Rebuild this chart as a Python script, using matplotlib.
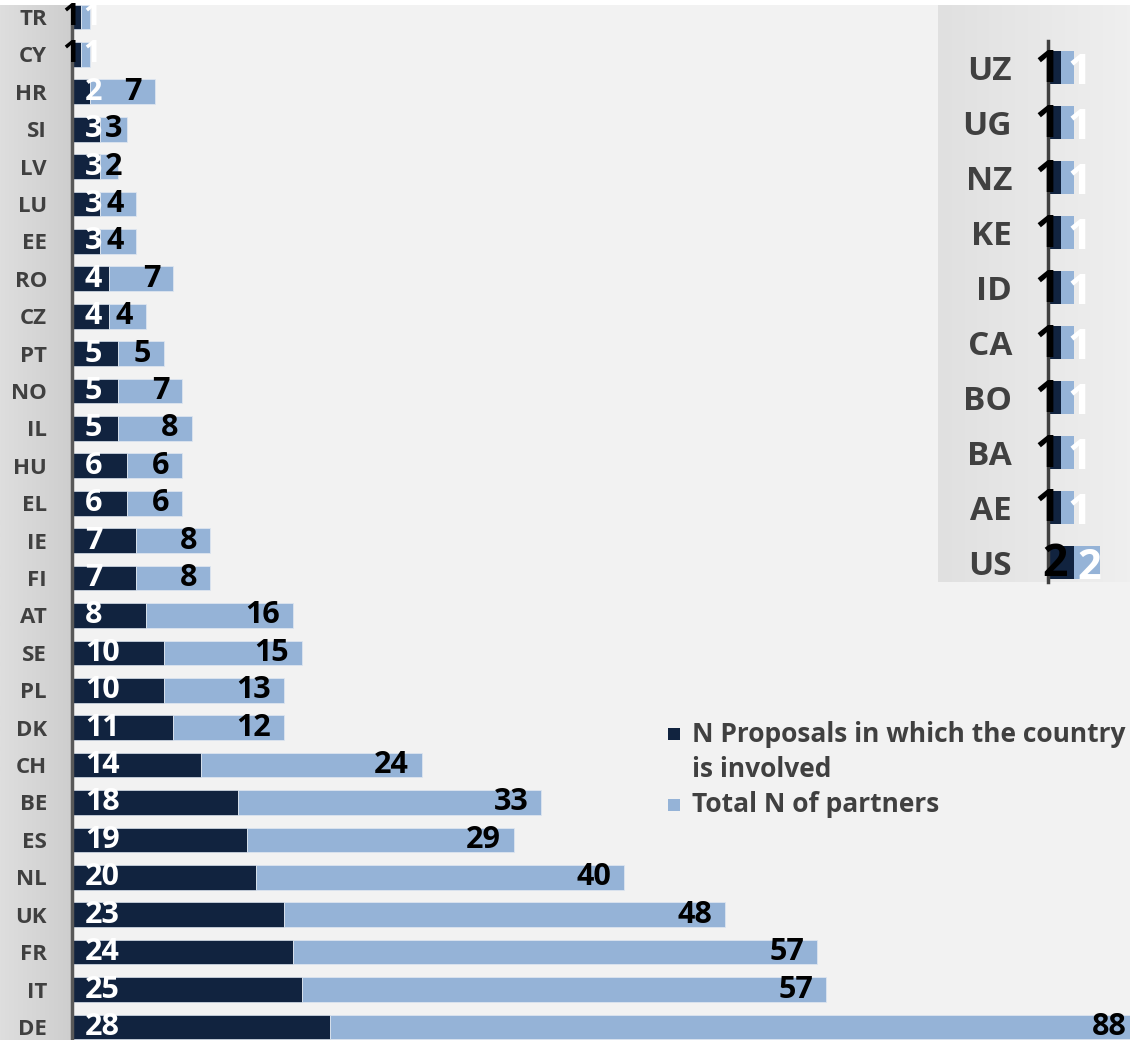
import numpy as np
import matplotlib.pyplot as plt
from matplotlib.colors import LinearSegmentedColormap
from matplotlib.patches import Rectangle

# --- データ ---
countries = ['TR', 'CY', 'HR', 'SI', 'LV', 'LU', 'EE', 'RO', 'CZ', 'PT', 'NO', 'IL', 'HU', 'EL',
             'IE', 'FI', 'AT', 'SE', 'PL', 'DK', 'CH', 'BE', 'ES', 'NL', 'UK', 'FR', 'IT', 'DE']
proposals = [1, 1, 2, 3, 3, 3, 3, 4, 4, 5, 5, 5, 6, 6, 7, 7, 8, 10, 10, 11, 14, 18, 19, 20, 23, 24, 25, 28]
partners = [1, 1, 7, 3, 2, 4, 4, 7, 4, 5, 7, 8, 6, 6, 8, 8, 16, 15, 13, 12, 24, 33, 29, 40, 48, 57, 57, 88]

extra_countries = ['UZ', 'UG', 'NZ', 'KE', 'ID', 'CA', 'BO', 'BA', 'AE', 'US']
extra_proposals = [1, 1, 1, 1, 1, 1, 1, 1, 1, 2]
extra_partners = [1, 1, 1, 1, 1, 1, 1, 1, 1, 2]

legend_labels = ['N Proposals in which the country\nis involved', 'Total N of partners']

DARK = '#11233f'
LIGHT = '#95b3d7'
GREY_TXT = '#404040'
BG = '#f2f2f2'
FONT = 'Open Sans'

W, H = 1130, 1040
fig = plt.figure(figsize=(W / 100, H / 100), dpi=100, facecolor=BG)


def fx(px):
    return px / W


def fy(py):
    return 1 - py / H


# 背景（上の白帯・左ラベル帯）
bg = fig.add_axes([0, 0, 1, 1], zorder=-10)
bg.axis('off')
bg.add_patch(Rectangle((0, 0), W, 5, color='white', lw=0))
grad = np.linspace(0, 1, 64)[None, :]
bg.imshow(grad, extent=[0, 72, H, 5], aspect='auto', zorder=1,
          cmap=LinearSegmentedColormap.from_list('g', ['#dedede', '#cecece']))
bg.set_xlim(0, W)
bg.set_ylim(H, 0)

# --- メインのグラフ ---
y = np.arange(len(countries))
ax = fig.add_axes([fx(72), 0, 1 - fx(72), fy(5)])
ax.set_facecolor('none')
ax.barh(y, proposals, height=0.66, color=DARK, edgecolor='#c9d2de', linewidth=0.6)
ax.barh(y, partners, left=proposals, height=0.66, color=LIGHT, edgecolor='#dde5ef', linewidth=0.6)
ax.set_xlim(0, 115)
ax.set_ylim(27.35, -0.32)
for s in ['top', 'right', 'bottom']:
    ax.spines[s].set_visible(False)
ax.spines['left'].set_color('#595959')
ax.spines['left'].set_linewidth(2.5)
ax.set_xticks([])
ax.set_yticks(y)
ax.set_yticklabels(countries, fontsize=16, fontweight='bold', color=GREY_TXT, family=FONT)
ax.tick_params(axis='y', length=0, pad=18)

for i, (p, t) in enumerate(zip(proposals, partners)):
    end = p + t
    if p == 1:
        # 小さすぎるバーは軸の上に黒で
        ax.text(-0.1, i, str(p), ha='center', va='center', fontsize=22, fontweight='bold',
                color='black', family=FONT, clip_on=False)
        ax.text(2.2, i, str(t), ha='center', va='center', fontsize=22, fontweight='bold',
                color='white', family=FONT)
        continue
    ax.text(1.4, i, str(p), ha='left', va='center', fontsize=22, fontweight='bold',
            color='white', family=FONT)
    xr = max(end - 1.4, p + 0.6 + 1.9 * len(str(t)))
    ax.text(xr, i, str(t), ha='right', va='center', fontsize=22, fontweight='bold',
            color='black', family=FONT)

# --- 凡例（手で配置）---
fig.patches.append(Rectangle((fx(668), fy(740)), fx(12), 12 / H, transform=fig.transFigure,
                             color=DARK, lw=0))
fig.patches.append(Rectangle((fx(668), fy(811)), fx(12), 12 / H, transform=fig.transFigure,
                             color=LIGHT, lw=0))
fig.text(fx(692), fy(752), legend_labels[0], fontsize=19, fontweight='bold', color=GREY_TXT,
         family=FONT, va='center', ha='left', linespacing=1.35)
fig.text(fx(692), fy(805), legend_labels[1], fontsize=19, fontweight='bold', color=GREY_TXT,
         family=FONT, va='center', ha='left')

# --- 右上の挿入グラフ（欧州外）---
box = fig.add_axes([fx(938), fy(582), 1 - fx(938), (582 - 5) / H], zorder=2)
box.axis('off')
box.imshow(np.linspace(0, 1, 64)[None, :], extent=[0, 1, 0, 1], aspect='auto',
           cmap=LinearSegmentedColormap.from_list('b', ['#e0e0e0', '#efefef']))
box.set_xlim(0, 1)
box.set_ylim(0, 1)

ye = np.arange(len(extra_countries))
ax2 = fig.add_axes([fx(1048), fy(582), 1 - fx(1048), (582 - 40.5) / H], zorder=3)
ax2.set_facecolor('none')
ax2.barh(ye, extra_proposals, height=0.6, color=DARK)
ax2.barh(ye, extra_partners, left=extra_proposals, height=0.6, color=LIGHT)
ax2.set_xlim(0, 6.3)
ax2.set_ylim(9.35, -0.5)
for s in ['top', 'right', 'bottom']:
    ax2.spines[s].set_visible(False)
ax2.spines['left'].set_color('#404040')
ax2.spines['left'].set_linewidth(2.5)
ax2.set_xticks([])
ax2.set_yticks(ye)
ax2.set_yticklabels(extra_countries, fontsize=24, fontweight='bold', color=GREY_TXT, family=FONT)
ax2.tick_params(axis='y', length=0, pad=26)

for i, (p, t) in enumerate(zip(extra_proposals, extra_partners)):
    if p == 1:
        xd, xl = -0.1, 2.45
    else:
        xd, xl = p / 2 - 0.45, p + t / 2 + 0.15
    ax2.text(xd, i + 0.04, str(p), ha='center', va='center', fontsize=32, fontweight='bold',
             color='black', family=FONT, clip_on=False)
    ax2.text(xl, i + 0.1, str(t), ha='center', va='center', fontsize=30, fontweight='bold',
             color='white', family=FONT)

fig.savefig('out.png', dpi=100, facecolor=fig.get_facecolor())
